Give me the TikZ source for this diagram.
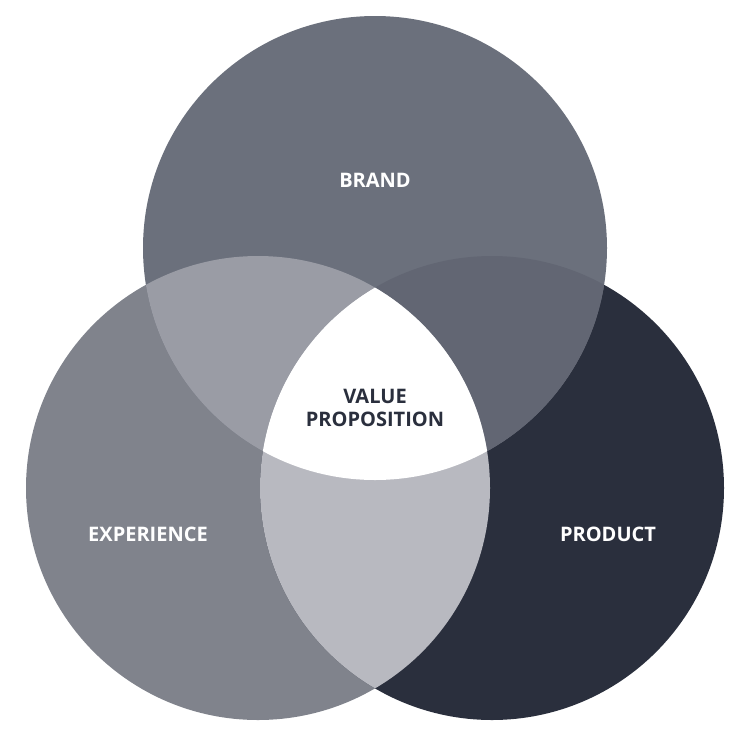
\documentclass[tikz,border=0pt]{standalone}
\usepackage{fontspec}
\setmainfont{Open Sans}
\definecolor{cb}{HTML}{6B707C}
\definecolor{ce}{HTML}{80838C}
\definecolor{cp}{HTML}{2A2F3D}
\definecolor{cbe}{HTML}{9A9CA5}
\definecolor{cbp}{HTML}{626673}
\definecolor{cep}{HTML}{B8B9C0}
\tikzset{lbl/.style={font=\bfseries\fontsize{20}{23}\selectfont, text=white, align=center},
         lblc/.style={lbl, text=cp}}
\begin{document}
\begin{tikzpicture}[x=1pt,y=-1pt]
\useasboundingbox (0,0) rectangle (750,750);
\fill[white] (0,0) rectangle (750,750);
\def\B{(375,248) circle (232)}
\def\E{(258,488) circle (232)}
\def\P{(492,488) circle (232)}
\fill[ce] \E;
\fill[cp] \P;
\fill[cb] \B;
\begin{scope}\clip \B; \fill[cbe] \E; \fill[cbp] \P; \end{scope}
\begin{scope}\clip \E; \fill[cep] \P; \end{scope}
\begin{scope}\clip \B; \clip \E; \fill[white] \P; \end{scope}
\node[lbl] (brand) at (375,180) {BRAND};
\node[lbl] (exp) at (148,534) {EXPERIENCE};
\node[lbl] (prod) at (608,534) {PRODUCT};
\node[lblc] (vp) at (375,408) {VALUE\\PROPOSITION};
\end{tikzpicture}
\end{document}
